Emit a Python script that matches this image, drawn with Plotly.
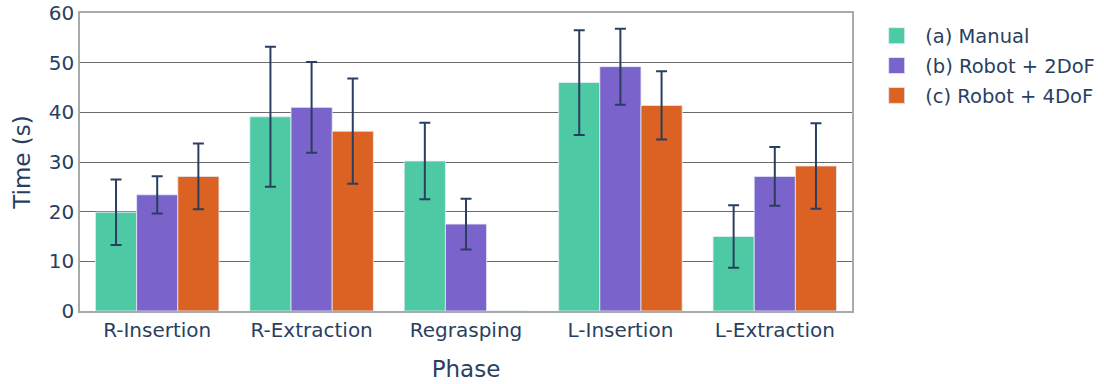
import plotly.graph_objects as go

# Mean phase durations (s) and their standard deviations
phases = ["R-Insertion", "R-Extraction", "Regrasping", "L-Insertion", "L-Extraction"]

manual_mean = [19.9, 39.1, 30.2, 46.0, 15.0]
manual_sd = [6.6, 14.1, 7.7, 10.55, 6.3]

robot2_mean = [23.4, 41.0, 17.5, 49.2, 27.1]
robot2_sd = [3.75, 9.15, 5.1, 7.65, 5.9]

robot4_mean = [27.1, 36.2, 0.0, 41.4, 29.2]
robot4_sd = [6.6, 10.6, None, 6.85, 8.6]

series_names = ["(a) Manual", "(b) Robot + 2DoF", "(c) Robot + 4DoF"]
series_colors = ["#4DC9A3", "#7A63CB", "#DB6223"]

TEXT = "#2a3f5f"
FONT = "Verdana, DejaVu Sans, sans-serif"


def err_values(sd):
    # plotly.js skips the error bar of a point whose error is not a number
    return ["NaN" if v is None else v for v in sd]


fig = go.Figure()

for name, color, mean, sd in zip(
    series_names,
    series_colors,
    [manual_mean, robot2_mean, robot4_mean],
    [manual_sd, robot2_sd, robot4_sd],
):
    fig.add_trace(
        go.Bar(
            x=phases,
            y=mean,
            name=name,
            showlegend=False,
            marker=dict(color=color, line=dict(color="#E5ECF6", width=0.8)),
            error_y=dict(
                type="data",
                array=err_values(sd),
                visible=True,
                color=TEXT,
                thickness=2,
                width=5.5,
            ),
        )
    )

# Legend entries with larger square swatches, one group each for even spacing
for name, color in zip(series_names, series_colors):
    fig.add_trace(
        go.Scatter(
            x=[None],
            y=[None],
            mode="markers",
            name=name,
            legendgroup=name,
            marker=dict(
                symbol="square",
                size=16,
                color=color,
                line=dict(color="#E5ECF6", width=0.8),
            ),
        )
    )

fig.update_layout(
    width=1104,
    height=384,
    margin=dict(l=80, r=252, t=13, b=73),
    barmode="group",
    bargap=0.2,
    bargroupgap=0,
    plot_bgcolor="white",
    paper_bgcolor="white",
    font=dict(family=FONT, size=20, color=TEXT),
    legend=dict(
        xref="container",
        yref="container",
        x=0.7864,
        y=0.957,
        xanchor="left",
        yanchor="top",
        itemwidth=47,
        traceorder="grouped",
        tracegroupgap=1.5,
        font=dict(family=FONT, size=19.5, color=TEXT),
        bgcolor="rgba(0,0,0,0)",
    ),
    xaxis=dict(
        title=dict(text="Phase", font=dict(size=23), standoff=20),
        automargin=False,
        showline=True,
        linecolor="#A6ACAB",
        linewidth=1.5,
        mirror=True,
        showgrid=False,
        ticks="",
        tickfont=dict(size=20),
    ),
    yaxis=dict(
        title=dict(text="Time (s)", font=dict(size=23), standoff=12),
        automargin=False,
        range=[0, 60],
        dtick=10,
        showline=True,
        linecolor="#A6ACAB",
        linewidth=1.5,
        mirror=True,
        showgrid=True,
        gridcolor="#6A6A6A",
        gridwidth=1,
        zeroline=False,
        ticks="",
        tickfont=dict(size=20),
    ),
)

fig.write_html("out.html")
